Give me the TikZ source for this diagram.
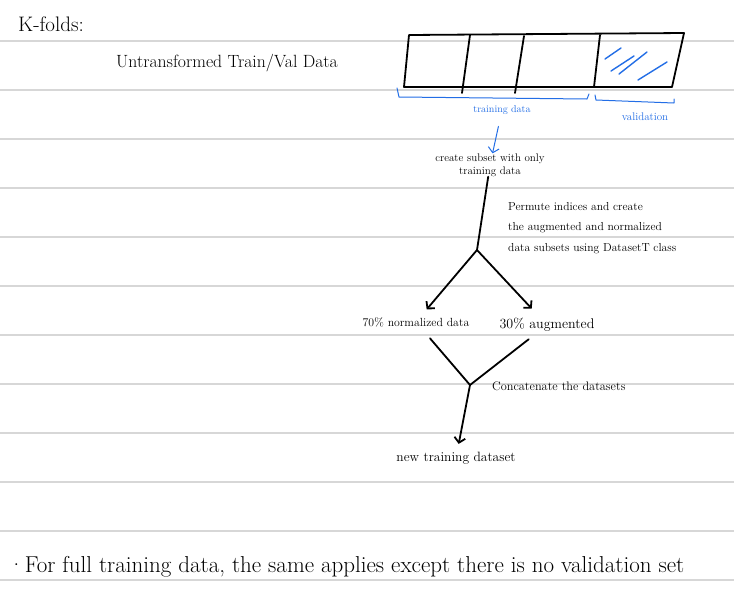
\documentclass[tikz,border=0pt]{standalone}
\usepackage{tikz}
\usetikzlibrary{arrows.meta}
\definecolor{penblue}{RGB}{35,110,230}
\definecolor{rulegray}{RGB}{215,215,215}
\tikzset{
  ink/.style={line width=1.8pt, line cap=round, line join=round},
  blueink/.style={penblue, line width=1pt, line cap=round, line join=round},
  ruled/.style={rulegray, line width=1.6pt},
  note/.style={inner sep=0pt, font=\fontsize{#1}{#1}\selectfont},
  bluenote/.style={note=#1, text=penblue},
  >={Straight Barb[length=5pt,width=11pt]}
}
\begin{document}
\begin{tikzpicture}[x=1pt,y=-1pt]
      \useasboundingbox (0,0) rectangle (734,600);
      \fill [white] (0,0) rectangle (734,600);
      % notebook lines
      \foreach \k in {0,...,11}
        \draw [ruled] (0, 41+49*\k) -- (734, 41+49*\k);

      \node [note=21] (kfolds) at (51, 24) {K-folds:};
      \node [note=17.7] (untrans) at (227, 63) {Untransformed Train/Val Data};

      % the data bar
      \draw [ink] (409, 35) -- (684, 33) -- (672, 87) -- (404, 87) -- cycle;
      \draw [ink] (470, 35) -- (462, 93);
      \draw [ink] (524, 36) -- (515, 93);
      \draw [ink] (600, 35) -- (594, 87);
      \draw [blueink, line width=1.4pt] (605, 59) -- (621, 48);
      \draw [blueink, line width=1.4pt] (611, 71) -- (634, 56);
      \draw [blueink, line width=1.4pt] (619, 74) -- (647, 52);
      \draw [blueink, line width=1.4pt] (638, 80) -- (667, 62);

      % braces
      \draw [blueink] (397, 88) -- (399, 97) -- (587, 99) -- (589, 94);
      \draw [blueink] (595, 95) -- (596, 100) -- (674, 103) -- (674, 99);
      \node [bluenote=10] (trainlbl) at (502, 110) {training data};
      \node [bluenote=11] (vallbl) at (645, 117) {validation};

      \node [note=11, align=center] (subset) at (490, 165)
        {create subset with only\\[2pt]training data};
      \draw [blueink, ->, shorten <=12pt] (trainlbl) -- (subset);

      \coordinate (split) at (477, 250);
      \node [note=11.6, align=left, anchor=west] (permute) at (508, 228)
        {Permute indices and create\\[9pt]the augmented and normalized\\[9pt]data subsets using DatasetT class};
      \node [note=11.8] (norm) at (416, 322) {70\% normalized data};
      \node [note=14] (aug) at (547, 325) {30\% augmented};
      \draw [ink] (subset) -- (split);
      \draw [ink, ->, shorten >=10pt] (split) -- (norm);
      \draw [ink, ->, shorten >=13pt] (split) -- (aug);

      \coordinate (join) at (470, 385);
      \node [note=12.3, anchor=west] (concat) at (492, 386) {Concatenate the datasets};
      \node [note=13.5] (newtrain) at (456, 458) {new training dataset};
      \draw [ink, shorten <=15pt] (norm) -- (join);
      \draw [ink, shorten <=12pt] (aug) -- (join);
      \draw [ink, ->, shorten >=8pt] (join) -- (newtrain);

      \node [note=23, anchor=west] (fulldata) at (8, 567)
        {\textperiodcentered{}For full training data, the same applies except there is no validation set};
\end{tikzpicture}
\end{document}
